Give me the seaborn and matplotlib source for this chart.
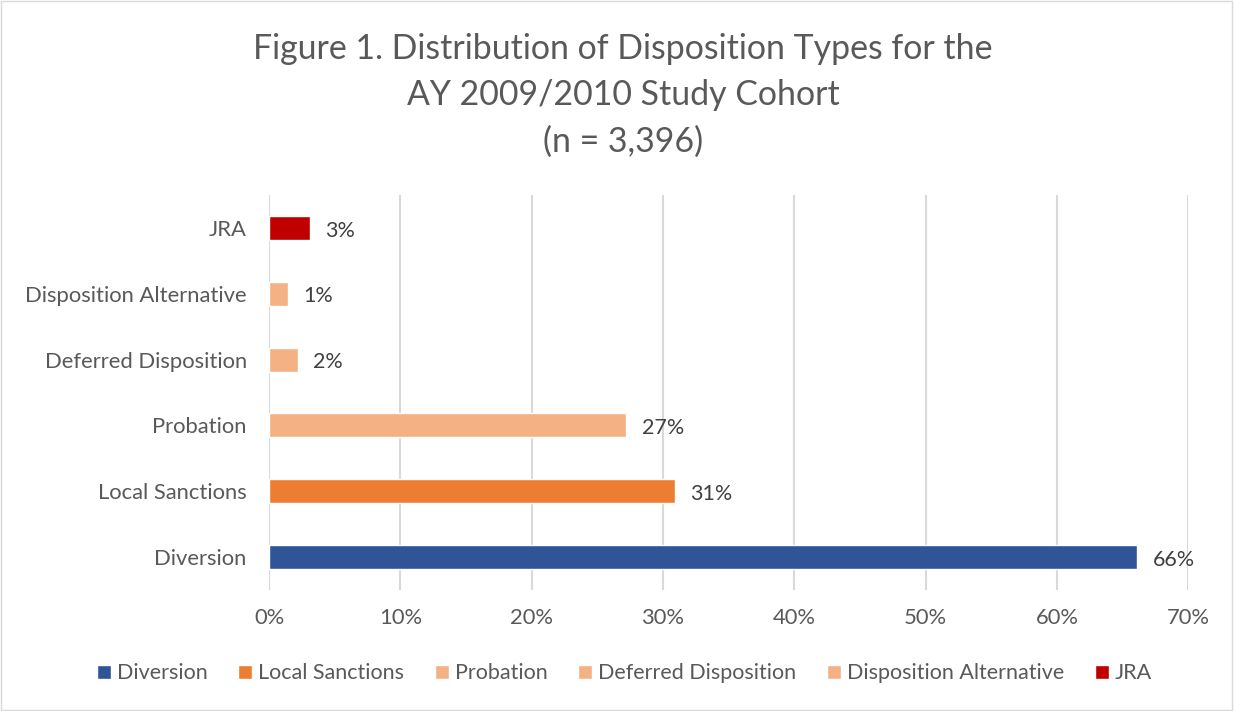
import pandas as pd
import seaborn as sns
import matplotlib.pyplot as plt

# Chart data
categories = ['JRA', 'Disposition Alternative', 'Deferred Disposition',
              'Probation', 'Local Sanctions', 'Diversion']
values = [3.1, 1.45, 2.2, 27.2, 30.9, 66.1]
value_labels = ['3%', '1%', '2%', '27%', '31%', '66%']
legend_order = ['Diversion', 'Local Sanctions', 'Probation',
                'Deferred Disposition', 'Disposition Alternative', 'JRA']
colors = {'Diversion': '#2F5597', 'Local Sanctions': '#ED7D31',
          'Probation': '#F4B183', 'Deferred Disposition': '#F4B183',
          'Disposition Alternative': '#F4B183', 'JRA': '#C00000'}
x_ticks = [0, 10, 20, 30, 40, 50, 60, 70]

df = pd.DataFrame({'Disposition': categories, 'Percent': values})

sns.set_style('white')
plt.rcParams['font.family'] = ['Lato', 'DejaVu Sans']
text_color = '#595959'

fig = plt.figure(figsize=(12.34, 7.11), dpi=100)
ax = fig.add_axes([0.218, 0.170, 0.745, 0.556])

sns.barplot(data=df, y='Disposition', x='Percent', hue='Disposition',
            order=categories, hue_order=legend_order, palette=colors,
            saturation=1, dodge=False, width=0.365, orient='h', ax=ax, legend=True)

# Value labels to the right of each bar
for i, (v, lab) in enumerate(zip(values, value_labels)):
    ax.annotate(lab, xy=(v, i), xytext=(11, -2), textcoords='offset points',
                va='center', ha='left', fontsize=15.5, color='#404040')

ax.set_xlim(0, 70)
ax.set_xticks(x_ticks)
ax.set_xticklabels([f'{t}%' for t in x_ticks])
ax.set_xlabel('')
ax.set_ylabel('')
ax.grid(axis='x', color='#D9D9D9', linewidth=1.5)
ax.set_axisbelow(True)
for s in ax.spines.values():
    s.set_visible(False)
ax.tick_params(axis='both', length=0, labelsize=15.8, colors=text_color)
ax.tick_params(axis='y', pad=16)
ax.tick_params(axis='x', pad=13)

# Legend at the bottom
handles, labels = ax.get_legend_handles_labels()
ax.legend_.remove()
fig.legend(handles, labels, loc='center', bbox_to_anchor=(0.506, 0.053),
           ncol=6, frameon=False, fontsize=15.5, handlelength=0.65,
           handleheight=0.65, handletextpad=0.3, columnspacing=1.4,
           labelcolor=text_color)

fig.text(0.505, 0.866, 'Figure 1. Distribution of Disposition Types for the\n'
         'AY 2009/2010 Study Cohort\n(n = 3,396)',
         ha='center', va='center', fontsize=24.4, color=text_color, linespacing=1.55)

# Light chart border
fig.patches.append(plt.Rectangle((0.001, 0.001), 0.997, 0.997, transform=fig.transFigure,
                                 fill=False, edgecolor='#D9D9D9', linewidth=1))

plt.savefig('out.png', dpi=100)
